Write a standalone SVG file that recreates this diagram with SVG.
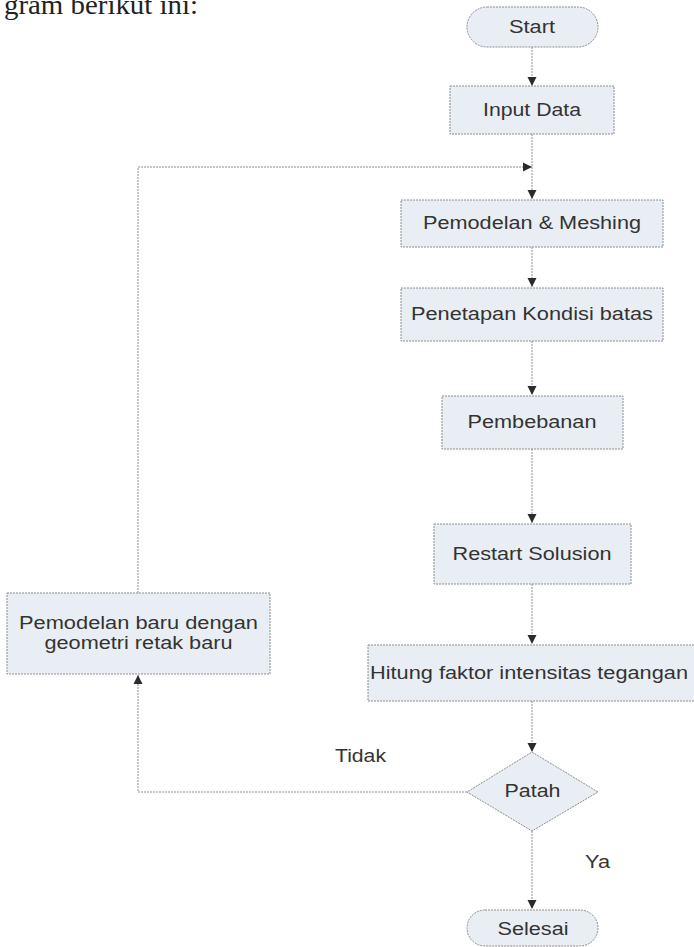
<svg xmlns="http://www.w3.org/2000/svg" width="694" height="947" viewBox="0 0 694 947">
<style>
.box{fill:#e9eef4;stroke:#8c8c8c;stroke-width:1;stroke-dasharray:2,1}
.lbl{font-family:"Liberation Sans",Arial,sans-serif;font-size:17.5px;fill:#333;text-anchor:middle}
.con{fill:none;stroke:#8f8f8f;stroke-width:1;stroke-dasharray:2,1}
</style>
<defs>
<marker id="ah" markerWidth="10" markerHeight="10" refX="9" refY="5" orient="auto" markerUnits="userSpaceOnUse">
<path d="M0,0.5 L9,5 L0,9.5 Z" fill="#2b2b2b"/>
</marker>
</defs>
<rect width="694" height="947" fill="#fff"/>
<text x="4" y="14" font-family="'Liberation Serif','Times New Roman',serif" font-size="28" fill="#222" textLength="194" lengthAdjust="spacingAndGlyphs">gram berikut ini:</text>

<g id="connectors">
<line class="con" x1="532" y1="47" x2="532" y2="86" marker-end="url(#ah)"/>
<line class="con" x1="532" y1="134" x2="532" y2="199" marker-end="url(#ah)"/>
<polyline class="con" points="138,593 138,167 532,167" marker-end="url(#ah)"/>
<line class="con" x1="532" y1="247" x2="532" y2="287" marker-end="url(#ah)"/>
<line class="con" x1="532" y1="341" x2="532" y2="395" marker-end="url(#ah)"/>
<line class="con" x1="532" y1="449" x2="532" y2="523" marker-end="url(#ah)"/>
<line class="con" x1="532" y1="584" x2="532" y2="644" marker-end="url(#ah)"/>
<line class="con" x1="532" y1="701" x2="532" y2="752" marker-end="url(#ah)"/>
<line class="con" x1="532" y1="831" x2="532" y2="909" marker-end="url(#ah)"/>
<polyline class="con" points="467,792 138,792 138,675" marker-end="url(#ah)"/>
<text class="lbl" x="360.5" y="762" textLength="51" lengthAdjust="spacingAndGlyphs">Tidak</text>
<text class="lbl" x="597.5" y="868" textLength="25" lengthAdjust="spacingAndGlyphs">Ya</text>
</g>

<g id="start">
<rect class="box" x="467" y="7" width="131" height="40" rx="20"/>
<text class="lbl" x="532" y="33" textLength="46" lengthAdjust="spacingAndGlyphs">Start</text>
</g>
<g id="input">
<rect class="box" x="450" y="86" width="164" height="48"/>
<text class="lbl" x="532" y="115.5" textLength="98" lengthAdjust="spacingAndGlyphs">Input Data</text>
</g>
<g id="pemodelan">
<rect class="box" x="401" y="200" width="262" height="47"/>
<text class="lbl" x="532" y="228.5" textLength="218" lengthAdjust="spacingAndGlyphs">Pemodelan &amp; Meshing</text>
</g>
<g id="penetapan">
<rect class="box" x="401" y="288" width="262" height="53"/>
<text class="lbl" x="532" y="319.5" textLength="242" lengthAdjust="spacingAndGlyphs">Penetapan Kondisi batas</text>
</g>
<g id="pembebanan">
<rect class="box" x="442" y="396" width="181" height="53"/>
<text class="lbl" x="532" y="427.5" textLength="129" lengthAdjust="spacingAndGlyphs">Pembebanan</text>
</g>
<g id="restart">
<rect class="box" x="434" y="524" width="197" height="60"/>
<text class="lbl" x="532" y="560" textLength="159" lengthAdjust="spacingAndGlyphs">Restart Solusion</text>
</g>
<g id="hitung">
<rect class="box" x="368" y="645" width="330" height="56"/>
<text class="lbl" x="529" y="679" textLength="318" lengthAdjust="spacingAndGlyphs">Hitung faktor intensitas tegangan</text>
</g>
<g id="patah">
<polygon class="box" points="532,752 598,792 532,831 467,792"/>
<text class="lbl" x="532.5" y="797" textLength="56" lengthAdjust="spacingAndGlyphs">Patah</text>
</g>
<g id="selesai">
<rect class="box" x="467" y="910" width="131" height="36" rx="18"/>
<text class="lbl" x="533" y="935" textLength="71" lengthAdjust="spacingAndGlyphs">Selesai</text>
</g>
<g id="pemodelan-baru">
<rect class="box" x="7" y="593" width="263" height="81"/>
<text class="lbl" x="138.5" y="628.5" textLength="239" lengthAdjust="spacingAndGlyphs">Pemodelan baru dengan</text>
<text class="lbl" x="138.5" y="649" textLength="188" lengthAdjust="spacingAndGlyphs">geometri retak baru</text>
</g>
</svg>
